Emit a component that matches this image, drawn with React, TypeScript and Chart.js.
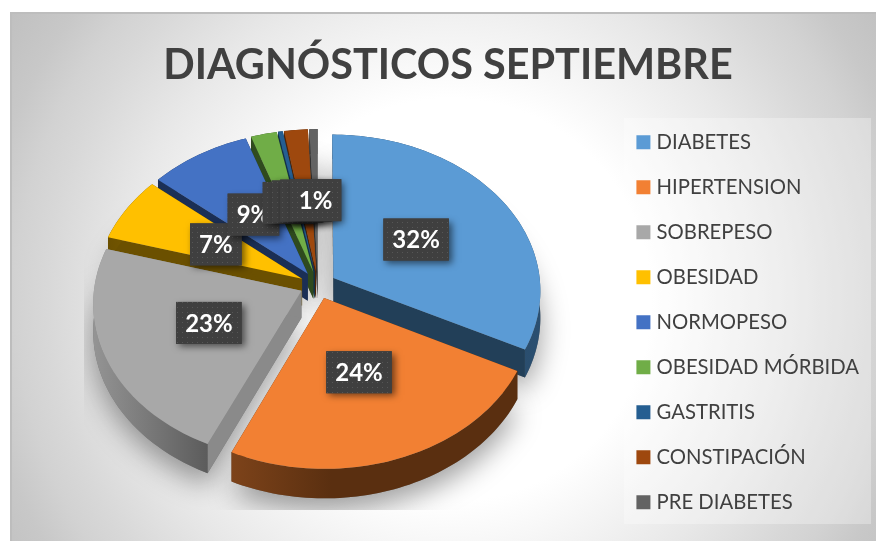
import React, { useEffect, useRef } from "react";
import { Chart, registerables } from "chart.js";

Chart.register(...registerables);

const titleText = "DIAGNÓSTICOS SEPTIEMBRE";
const categories = ["DIABETES", "HIPERTENSION", "SOBREPESO", "OBESIDAD", "NORMOPESO", "OBESIDAD MÓRBIDA", "GASTRITIS", "CONSTIPACIÓN", "PRE DIABETES"];
const values = [32.4, 24.4, 22.6, 6.7, 8.6, 2.2, 0.4, 2.0, 0.7];
const faceColors = ["#5b9bd5", "#f28033", "#a8a8a8", "#ffc000", "#4472c4", "#70ad47", "#255e91", "#9e480e", "#636363"];
const sideStart = ["#2b4f70", "#7d431a", "#949494", "#806000", "#203864", "#375623", "#12304a", "#4f2407", "#333333"];
const sideEnd = ["#223f58", "#5a2f10", "#5c5c5c", "#6b5000", "#1b2f55", "#2f4a1e", "#12304a", "#4f2407", "#333333"];

// Projection of the pie plane to the screen (3D look)
const CX = 318, CY = 285, RX = 207, RY = 155.5, K = 0.078, DEPTH = 27, LABEL_R = 0.57;

function project(u: number, v: number, z = 0): [number, number] {
  const w = 1 - K * v;
  return [CX + (RX * u) / w, CY + (RY * v) / w + (z * DEPTH) / w];
}

function sliceInfo(el: any) {
  const { startAngle, endAngle, outerRadius } = el.getProps(["startAngle", "endAngle", "outerRadius"], true);
  const mid = (startAngle + endAngle) / 2;
  const e = (el.options.offset || 0) / outerRadius;
  return { startAngle, endAngle, mid, e, ax: Math.cos(mid) * e, ay: Math.sin(mid) * e };
}

function rimPoints(s: any, z: number) {
  const pts: [number, number][] = [];
  const n = Math.max(2, Math.ceil((s.endAngle - s.startAngle) * 40));
  for (let i = 0; i <= n; i++) {
    const a = s.startAngle + ((s.endAngle - s.startAngle) * i) / n;
    pts.push(project(s.ax + Math.cos(a), s.ay + Math.sin(a), z));
  }
  return pts;
}

function poly(ctx: CanvasRenderingContext2D, pts: [number, number][]) {
  ctx.beginPath();
  pts.forEach((p, i) => (i ? ctx.lineTo(p[0], p[1]) : ctx.moveTo(p[0], p[1])));
  ctx.closePath();
}

const backdrop = {
  id: "backdrop",
  beforeDraw(chart: any) {
    const ctx = chart.ctx;
    ctx.save();
    ctx.fillStyle = "#ffffff";
    ctx.fillRect(0, 0, 876, 541);
    const g = ctx.createRadialGradient(450, 300, 0, 450, 300, 530);
    g.addColorStop(0.38, "#ffffff");
    g.addColorStop(0.62, "#e8e8e8");
    g.addColorStop(0.76, "#d8d8d8");
    g.addColorStop(0.82, "#d2d2d2");
    g.addColorStop(0.89, "#c8c8c8");
    g.addColorStop(1, "#bfbfbf");
    ctx.fillStyle = g;
    ctx.fillRect(10, 12, 866, 529);
    ctx.fillStyle = "#bdbdbd";
    ctx.fillRect(10, 12, 866, 2);
    ctx.fillRect(10, 12, 2, 529);
    ctx.fillStyle = "rgba(255,255,255,0.3)";
    ctx.fillRect(624, 118, 247, 406);
    ctx.restore();
  },
};

const pie3d = {
  id: "pie3d",
  beforeDatasetsDraw(chart: any) {
    const ctx = chart.ctx;
    const arcs = chart.getDatasetMeta(0).data;
    const slices = arcs.map((el: any, i: number) => ({ ...sliceInfo(el), i }));
    // soft ground shadow
    ctx.save();
    ctx.beginPath();
    ctx.rect(84, 100, 530, 410);
    ctx.clip();
    ctx.shadowColor = "rgba(0,0,0,0.38)";
    ctx.shadowBlur = 28;
    ctx.shadowOffsetY = 12;
    ctx.fillStyle = "#777";
    slices.forEach((s: any) => {
      poly(ctx, [project(s.ax, s.ay, 1), ...rimPoints(s, 1)]);
      ctx.fill();
    });
    ctx.restore();
    // painter's order, back to front
    const order = [...slices].sort((a: any, b: any) => Math.sin(a.mid) - Math.sin(b.mid));
    order.forEach((s: any) => {
      const top = rimPoints(s, 0);
      const bottom = rimPoints(s, 1);
      const apex = project(s.ax, s.ay, 0);
      const apexB = project(s.ax, s.ay, 1);
      ctx.save();
      // radial cut walls
      ctx.fillStyle = s.i === 2 ? "#8a8a8a" : sideEnd[s.i];
      poly(ctx, [apex, top[0], bottom[0], apexB]);
      ctx.fill();
      poly(ctx, [apex, top[top.length - 1], bottom[bottom.length - 1], apexB]);
      ctx.fill();
      // outer wall
      const xs = top.map((p) => p[0]);
      const g = ctx.createLinearGradient(Math.min(...xs), 0, Math.max(...xs), 0);
      const flip = s.i === 0;
      g.addColorStop(0, flip ? sideEnd[s.i] : s.i === 1 ? sideStart[s.i] : s.i === 2 ? sideStart[s.i] : sideEnd[s.i]);
      g.addColorStop(s.i === 1 ? 0.35 : 1, s.i === 1 || s.i === 2 ? sideEnd[s.i] : sideStart[s.i]);
      ctx.fillStyle = g;
      poly(ctx, [...top, ...[...bottom].reverse()]);
      ctx.fill();
      // top face
      ctx.fillStyle = faceColors[s.i];
      poly(ctx, [apex, ...top]);
      ctx.fill();
      ctx.restore();
    });
  },
  beforeDatasetDraw() {
    return false;
  },
  afterDatasetsDraw(chart: any) {
    const ctx = chart.ctx;
    const arcs = chart.getDatasetMeta(0).data;
    const total = values.reduce((a, b) => a + b, 0);
    const tile = document.createElement("canvas");
    tile.width = 5;
    tile.height = 5;
    const t = tile.getContext("2d") as CanvasRenderingContext2D;
    t.fillStyle = "#3f3f3f";
    t.fillRect(0, 0, 5, 5);
    t.fillStyle = "#565656";
    t.fillRect(2, 2, 1, 1);
    const pattern = ctx.createPattern(tile, "repeat");
    ctx.save();
    ctx.font = "bold 24px Lato";
    ctx.textAlign = "center";
    ctx.textBaseline = "middle";
    arcs.forEach((el: any, i: number) => {
      const s = sliceInfo(el);
      const [x, y] = project(Math.cos(s.mid) * LABEL_R, Math.sin(s.mid) * LABEL_R);
      const text = Math.round((values[i] / total) * 100) + "%";
      const w = ctx.measureText(text).width + 18;
      ctx.save();
      ctx.shadowColor = "rgba(0,0,0,0.55)";
      ctx.shadowBlur = 7;
      ctx.shadowOffsetX = 3;
      ctx.shadowOffsetY = 3;
      ctx.fillStyle = "#3f3f3f";
      ctx.fillRect(x - w / 2, y - 21, w, 42);
      ctx.restore();
      ctx.fillStyle = pattern;
      ctx.fillRect(x - w / 2, y - 21, w, 42);
      ctx.fillStyle = "#ffffff";
      ctx.fillText(text, x, y + 1);
    });
    ctx.restore();
  },
};

export default function App() {
  const ref = useRef<HTMLCanvasElement>(null);
  useEffect(() => {
    const chart = new Chart(ref.current as HTMLCanvasElement, {
      type: "pie",
      data: {
        labels: categories,
        datasets: [
          {
            data: values,
            backgroundColor: faceColors,
            borderColor: faceColors,
            borderWidth: 8,
            offset: 18,
          },
        ],
      },
      options: {
        responsive: false,
        animation: false,
        layout: { padding: { left: 27, right: 7 } },
        plugins: {
          tooltip: { enabled: false },
          title: {
            display: true,
            text: titleText,
            color: "#404040",
            font: { family: "Lato", weight: "bold", size: 41.4 },
            padding: { top: 41, bottom: 13 },
          },
          legend: {
            position: "right",
            fullSize: false,
            labels: {
              boxWidth: 6,
              boxHeight: 6,
              padding: 24.7,
              color: "#404040",
              font: { family: "Lato", size: 20.3 },
            },
          },
        },
      },
      plugins: [backdrop, pie3d],
    } as any);
    return () => chart.destroy();
  }, []);
  return (
    <div style={{ position: "absolute", left: 0, top: 0, width: 876, height: 541 }}>
      <canvas ref={ref} width={876} height={541} style={{ display: "block" }} />
    </div>
  );
}
